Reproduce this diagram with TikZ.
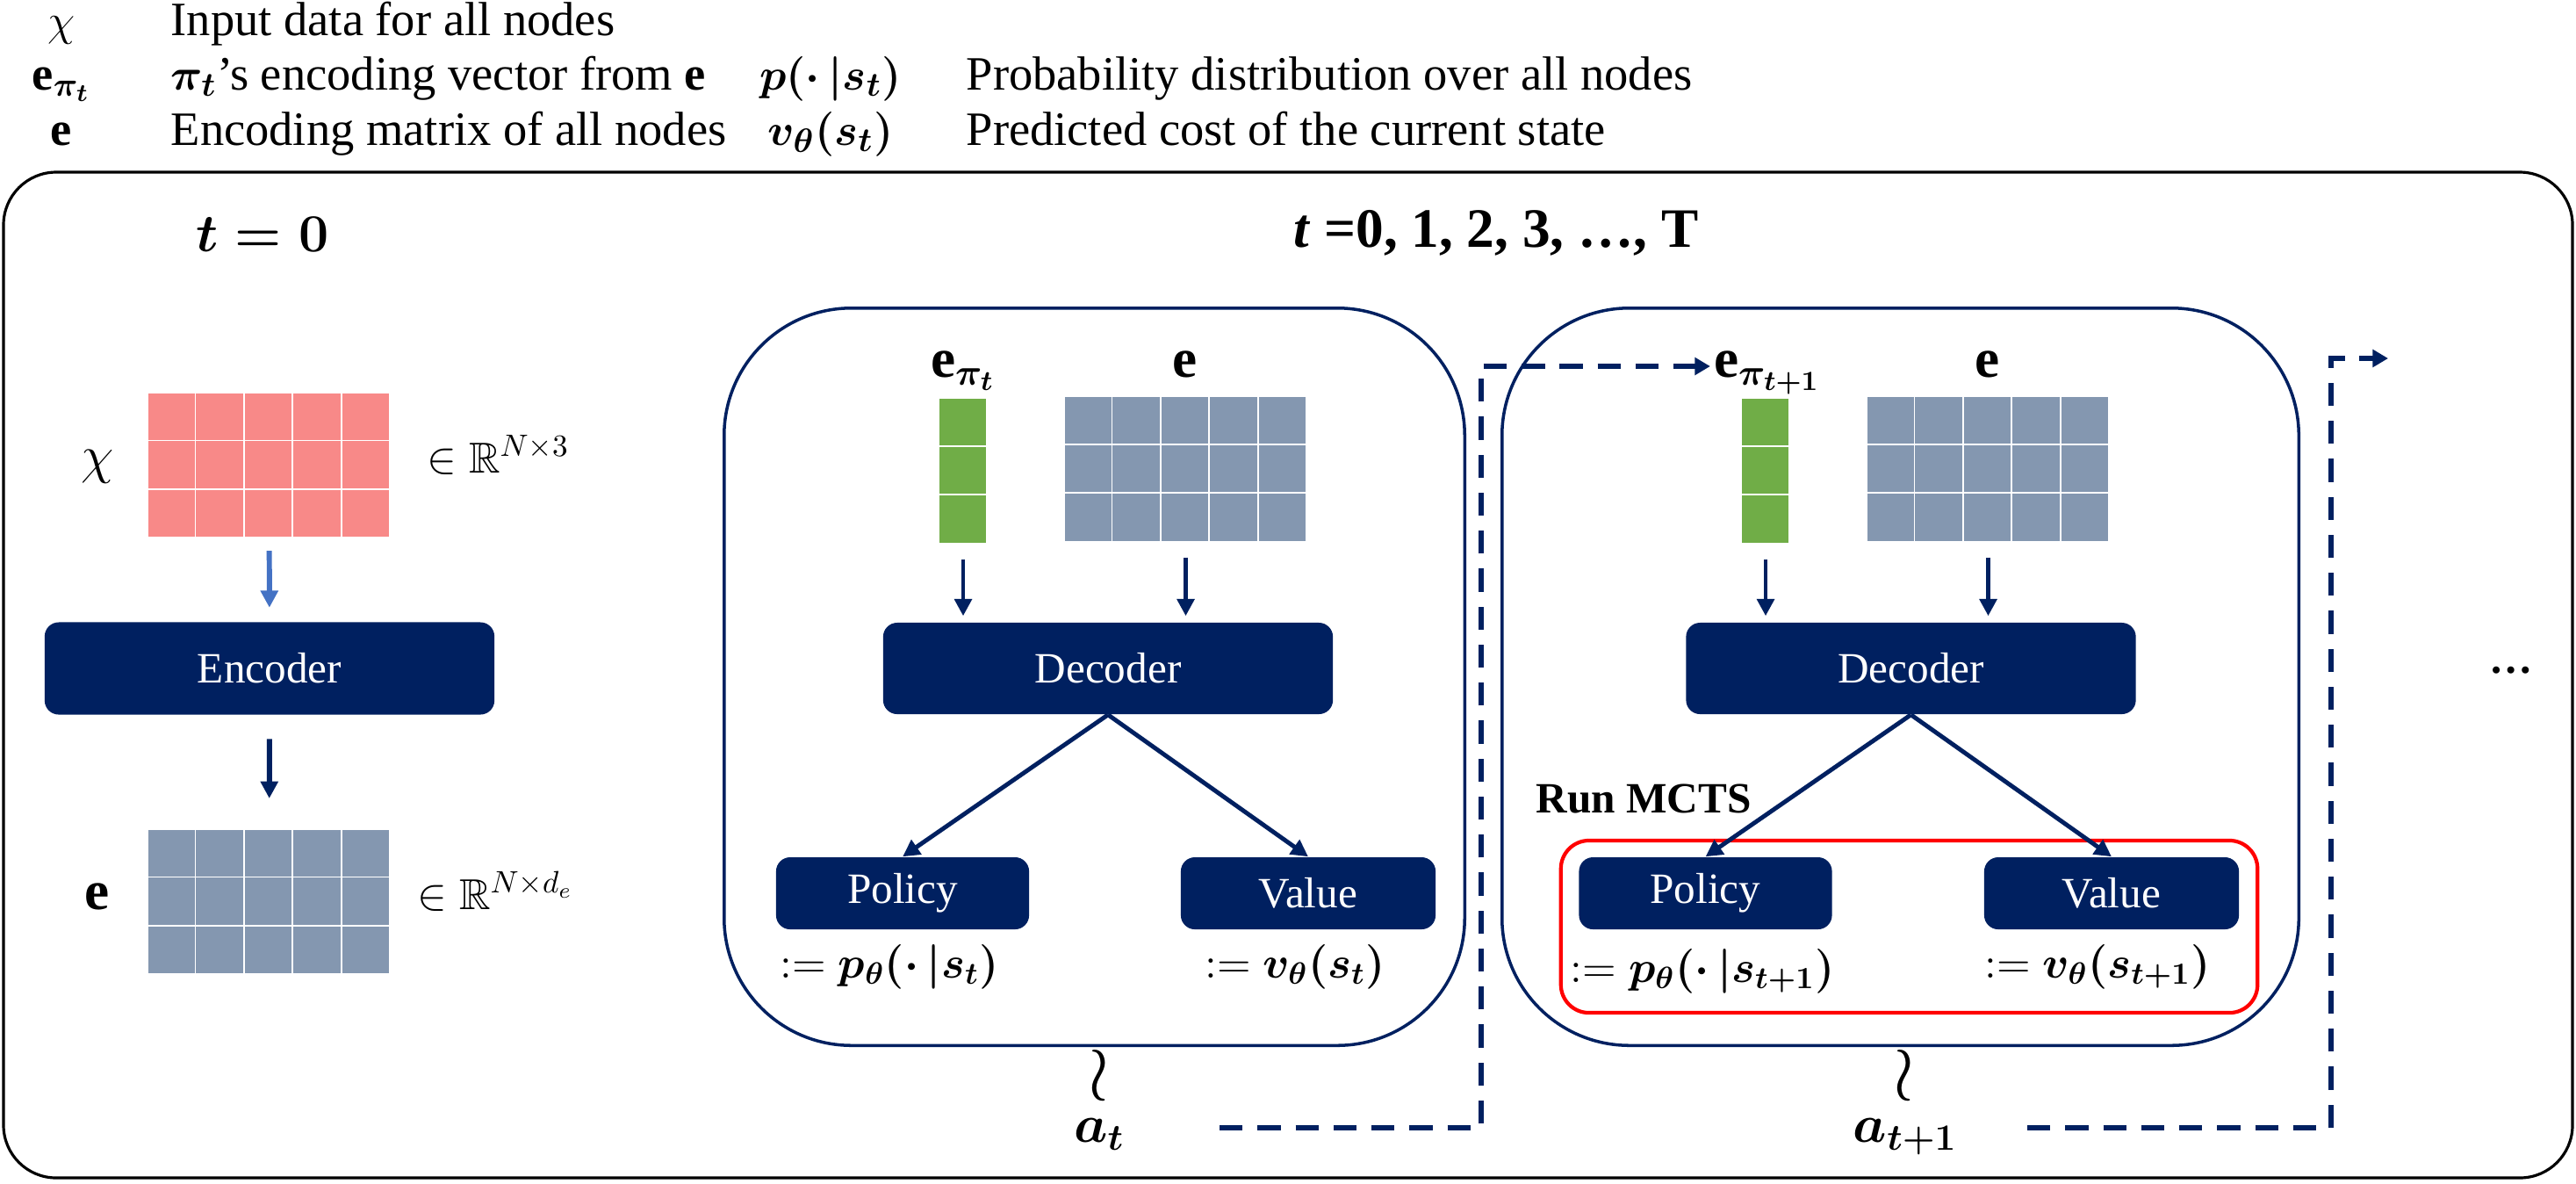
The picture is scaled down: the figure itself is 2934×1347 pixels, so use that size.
\documentclass[tikz,border=0pt]{standalone}
\usepackage{amsmath}
\usepackage{amssymb}
\usepackage{fontspec}
\setmainfont{Liberation Serif}
\usepackage{tikz}
\usetikzlibrary{calc}
\usetikzlibrary{positioning}
\usetikzlibrary{arrows.meta}
\definecolor{navy}{RGB}{0,32,96}
\definecolor{xred}{RGB}{248,137,136}
\definecolor{embgray}{RGB}{132,151,176}
\definecolor{vecgreen}{RGB}{112,173,71}
\definecolor{arrowblue}{RGB}{68,114,196}
\newcommand\legendfont{\fontsize{15.5}{18}\selectfont}
\newcommand\boxfont{\fontsize{14}{16}\selectfont}
\newcommand\titlefont{\fontsize{18}{21}\selectfont}
\newcommand\wrfont{\fontsize{24}{26}\selectfont}
\tikzstyle{block} = [fill=navy, text=white, rounded corners=0.16cm, inner sep=0pt, font=\boxfont]
\tikzstyle{stepframe} = [draw=navy, line width=1pt, rounded corners=1.45cm, inner sep=0pt]
\tikzstyle{mctsframe} = [draw=red, line width=1.2pt, rounded corners=0.32cm, inner sep=0pt]
\tikzstyle{gridbox} = [draw=white, line width=0.5pt, inner sep=0pt]
\tikzstyle{flow} = [navy, line width=1.4pt, -{Triangle[length=5.5pt,width=5.5pt]}]
\tikzstyle{loopflow} = [navy, line width=1.7pt, dash pattern=on 7.5pt off 4.8pt, -{Triangle[length=5pt,width=5.5pt]}]
\tikzstyle{lbl} = [inner sep=1pt, font=\boxfont, anchor=mid]
\tikzstyle{legend} = [inner sep=0pt, font=\legendfont, anchor=mid west]
% grid of cells: name, centre, columns, rows, colour
\newcommand\embmat[5]{%
  \node[gridbox, fill=#5, minimum width=#3*0.554cm, minimum height=#4*0.554cm] (#1) at (#2) {};
  \foreach \k in {1,...,#3}
    \draw[white, line width=0.5pt] ($(#1.north west)+(\k*55.4,0)$) -- ($(#1.south west)+(\k*55.4,0)$);
  \foreach \k in {1,...,#4}
    \draw[white, line width=0.5pt] ($(#1.north west)+(0,\k*55.4)$) -- ($(#1.north east)+(0,\k*55.4)$);
}
\begin{document}
\begin{tikzpicture}[x=0.01cm, y=-0.01cm]
\useasboundingbox (0,0) rectangle (2934,1347);

% legend
\node[legend, anchor=mid] (symchi) at (70,32) {$\chi$};
\node[legend] (txtchi) at (194,32) {Input data for all nodes};
\node[legend, anchor=mid] (symepi) at (70,94) {$\mathbf{e}_{\boldsymbol{\pi_t}}$};
\node[legend] (txtepi) at (194,94) {$\boldsymbol{\pi_t}$’s encoding vector from $\mathbf{e}$};
\node[legend, anchor=mid] (symp) at (946,94) {$\boldsymbol{p(\cdot\,|s_t)}$};
\node[legend] (txtp) at (1100,94) {Probability distribution over all nodes};
\node[legend, anchor=mid] (syme) at (70,157) {$\mathbf{e}$};
\node[legend] (txte) at (194,157) {Encoding matrix of all nodes};
\node[legend, anchor=mid] (symv) at (946,157) {$\boldsymbol{v_\theta(s_t)}$};
\node[legend] (txtv) at (1100,157) {Predicted cost of the current state};

% outer frame
\draw[line width=0.9pt, rounded corners=0.6cm] (4,196) rectangle (2930,1341);
\node[font=\titlefont] (tzero) at (299,267) {$\boldsymbol{t=0}$};
\node[font=\titlefont] (tall) at (1704,265) {\textbf{\textit{t} =0, 1, 2, 3, …, T}};

% encoder column
\embmat{chimat}{306.5,530}{5}{3}{xred}
\node[lbl, font=\titlefont] (chilbl) at (111,530) {$\chi$};
\node[lbl, anchor=mid west] (chidim) at (482,530) {$\in\mathbb{R}^{N\times 3}$};
\node[block, minimum width=5.12cm, minimum height=1.05cm] (enc) at (307,761) {Encoder};
\embmat{emat}{306.5,1027}{5}{3}{embgray}
\node[lbl, font=\titlefont] (elbl) at (111,1027) {$\mathbf{e}$};
\node[lbl, anchor=mid west] (edim) at (471,1027) {$\in\mathbb{R}^{N\times d_e}$};
\draw[flow, arrowblue, line width=1.7pt, shorten <=0.13cm, shorten >=0.16cm] (chimat) -- (enc);
\draw[flow, line width=1.7pt, shorten <=0.27cm, shorten >=0.34cm] (enc) -- (emat);

% step t
\node[stepframe, minimum width=8.43cm, minimum height=8.39cm] (step1) at (1246.5,770.5) {};
\embmat{vec1}{1097,536.5}{1}{3}{vecgreen}
\embmat{emb1}{1350.5,534.5}{5}{3}{embgray}
\node[lbl, anchor=base, font=\titlefont] (epi1) at (1097,429) {$\mathbf{e}_{\boldsymbol{\pi_t}}$};
\node[lbl, anchor=base, font=\titlefont] (elbl1) at (1350,429) {$\mathbf{e}$};
\node[block, minimum width=5.12cm, minimum height=1.04cm] (dec1) at (1262,761) {Decoder};
\node[block, minimum width=2.88cm, minimum height=0.82cm] (pol1) at (1028,1017) {Policy};
\node[block, minimum width=2.9cm, minimum height=0.82cm] (val1) at (1490,1017) {Value};
\node[lbl] (pout1) at (1013,1105) {$:=\boldsymbol{p_\theta(\cdot\,|s_t)}$};
\node[lbl] (vout1) at (1475,1105) {$:=\boldsymbol{v_\theta(s_t)}$};
\node[lbl, font=\wrfont] (wr1) at (1252,1238) {$\wr$};
\node[lbl, font=\titlefont] (act1) at (1252,1292) {$\boldsymbol{a_t}$};
\draw[flow, shorten <=0.16cm, shorten >=0.07cm] (vec1.south) -- (vec1.south |- dec1.north);
\draw[flow, shorten <=0.16cm, shorten >=0.07cm] (emb1.south) -- (emb1.south |- dec1.north);
\draw[flow] (dec1.south) -- (pol1.north);
\draw[flow] (dec1.south) -- (val1.north);

% step t+1
\node[stepframe, minimum width=9.07cm, minimum height=8.39cm] (step2) at (2164.5,770.5) {};
\embmat{vec2}{2011,536.5}{1}{3}{vecgreen}
\embmat{emb2}{2264.5,534.5}{5}{3}{embgray}
\node[lbl, anchor=base, font=\titlefont] (epi2) at (2013,429) {$\mathbf{e}_{\boldsymbol{\pi_{t+1}}}$};
\node[lbl, anchor=base, font=\titlefont] (elbl2) at (2264,429) {$\mathbf{e}$};
\node[block, minimum width=5.12cm, minimum height=1.04cm] (dec2) at (2176.5,761) {Decoder};
\node[block, minimum width=2.88cm, minimum height=0.82cm] (pol2) at (1942.5,1017) {Policy};
\node[block, minimum width=2.9cm, minimum height=0.82cm] (val2) at (2405,1017) {Value};
\node[mctsframe, minimum width=7.93cm, minimum height=1.96cm] (mcts) at (2174.5,1055) {};
\node[lbl, font=\boxfont\bfseries] (mctslbl) at (1872,917) {Run MCTS};
\node[lbl] (pout2) at (1939,1110) {$:=\boldsymbol{p_\theta(\cdot\,|s_{t+1})}$};
\node[lbl] (vout2) at (2389,1105) {$:=\boldsymbol{v_\theta(s_{t+1})}$};
\node[lbl, font=\wrfont] (wr2) at (2169,1238) {$\wr$};
\node[lbl, font=\titlefont] (act2) at (2170,1292) {$\boldsymbol{a_{t+1}}$};
\draw[flow, shorten <=0.16cm, shorten >=0.07cm] (vec2.south) -- (vec2.south |- dec2.north);
\draw[flow, shorten <=0.16cm, shorten >=0.07cm] (emb2.south) -- (emb2.south |- dec2.north);
\draw[flow] (dec2.south) -- (pol2.north);
\draw[flow] (dec2.south) -- (val2.north);

% feedback of the chosen action
\coordinate (out1) at (1389,1284);
\coordinate (hop1) at (1687,417);
\draw[loopflow] (out1) -| (hop1) -- (hop1 -| epi2.west);
\coordinate (out2) at (2309,1284);
\coordinate (hop2) at (2655,408);
\coordinate (nextstep) at (2720,408);
\draw[loopflow] (out2) -| (hop2) -- (nextstep);
\node[lbl, font=\boxfont\bfseries] (more) at (2860,758) {…};
\end{tikzpicture}
\end{document}
